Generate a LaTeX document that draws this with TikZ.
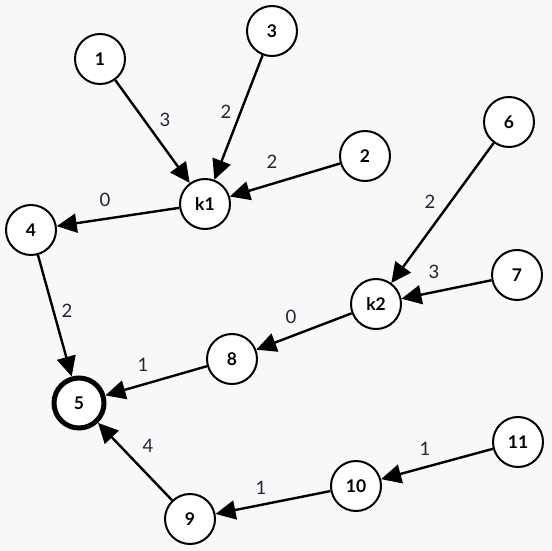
\documentclass[tikz,border=0pt]{standalone}
\usepackage{fontspec}
\setmainfont{Lato}
\usetikzlibrary{arrows.meta}
\definecolor{bg}{HTML}{F8F8F8}
\definecolor{lblc}{HTML}{22223A}
\tikzset{
  vert/.style={circle, draw=black, line width=2pt, fill=white, minimum size=50pt, inner sep=0pt, font=\fontsize{17.5}{17.5}\selectfont\bfseries},
  goal/.style={vert, line width=5pt, minimum size=50pt},
  edge/.style={line width=2.4pt, -{Triangle[length=20pt,width=19pt]}, shorten >=0pt},
  lbl/.style={text=lblc, font=\fontsize{18.5}{18.5}\selectfont, inner sep=0pt}
}
\begin{document}
\begin{tikzpicture}[x=1pt,y=-1pt]
\fill[bg] (0,0) rectangle (552,551);
\useasboundingbox (0,0) rectangle (552,551);
\node[vert] (n1) at (100,59) {1};
\node[vert] (n3) at (272,31) {3};
\node[vert] (n2) at (365,156) {2};
\node[vert] (n6) at (509,122) {6};
\node[vert] (k1) at (205,204) {k1};
\node[vert] (n4) at (31,230) {4};
\node[vert] (k2) at (376,304) {k2};
\node[vert] (n7) at (517,275) {7};
\node[vert] (n8) at (232,359) {8};
\node[goal] (n5) at (79,403) {5};
\node[vert] (n11) at (518,442) {11};
\node[vert] (n10) at (356,486) {10};
\node[vert] (n9) at (190,519) {9};
\draw[edge] (n1) -- (k1);
\draw[edge] (n3) -- (k1);
\draw[edge] (n2) -- (k1);
\draw[edge] (k1) -- (n4);
\draw[edge] (n4) -- (n5);
\draw[edge] (n6) -- (k2);
\draw[edge] (n7) -- (k2);
\draw[edge] (k2) -- (n8);
\draw[edge] (n8) -- (n5);
\draw[edge] (n9) -- (n5);
\draw[edge] (n10) -- (n9);
\draw[edge] (n11) -- (n10);
\node[lbl] (l1) at (165,120) {3};
\node[lbl] (l2) at (226,112) {2};
\node[lbl] (l3) at (272,162) {2};
\node[lbl] (l4) at (105,200) {0};
\node[lbl] (l5) at (67,311) {2};
\node[lbl] (l6) at (430,202) {2};
\node[lbl] (l7) at (434,272) {3};
\node[lbl] (l8) at (291,317) {0};
\node[lbl] (l9) at (143,365) {1};
\node[lbl] (l10) at (148,446) {4};
\node[lbl] (l11) at (261,488) {1};
\node[lbl] (l12) at (425,449) {1};
\end{tikzpicture}
\end{document}
